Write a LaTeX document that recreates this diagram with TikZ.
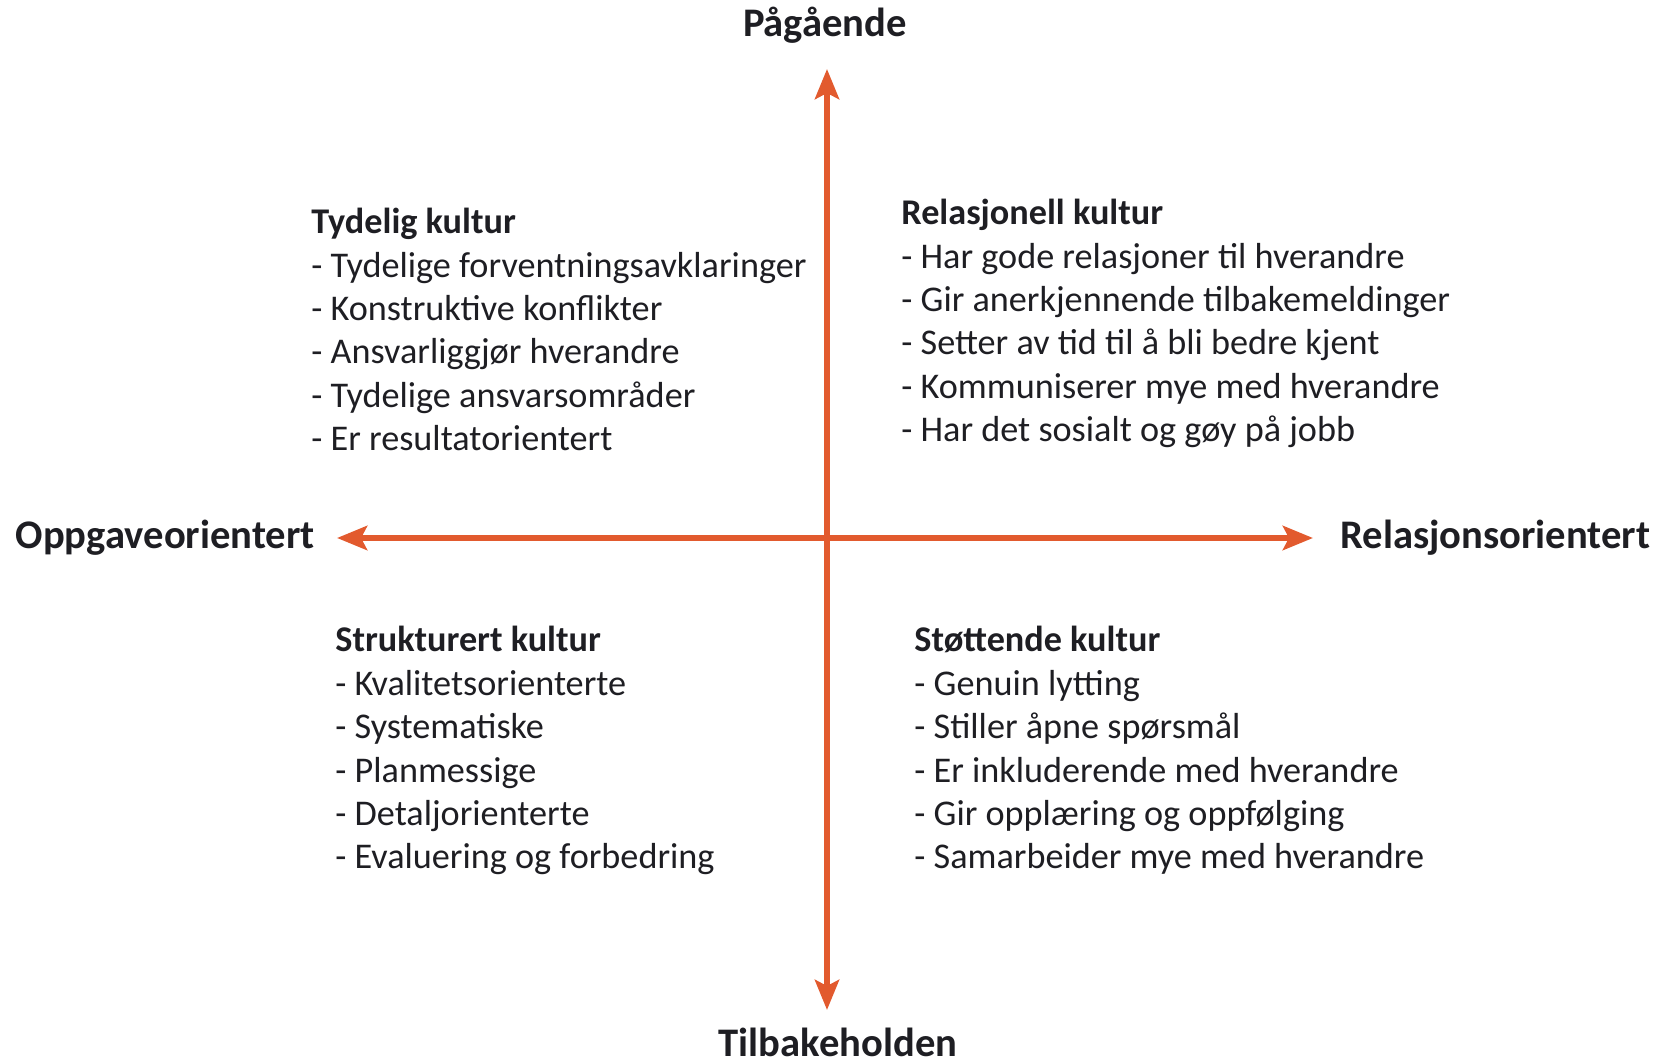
\documentclass[tikz,border=0pt]{standalone}
\usepackage{fontspec}
\setmainfont{Carlito}
\usepackage{tikz}
\usetikzlibrary{arrows.meta,positioning}
\definecolor{axisorange}{RGB}{226,90,46}
\definecolor{textdark}{RGB}{30,30,35}
\tikzstyle{axislabel}=[
  font={\fontsize{20.3}{24}\selectfont\bfseries},
  text=textdark,
  inner sep=0pt,
]
\tikzstyle{quadrant}=[
  font={\fontsize{18.1}{21.7}\selectfont},
  text=textdark,
  align=left,
  inner sep=0pt,
  anchor=north west,
]
\tikzstyle{axis}=[
  color=axisorange,
  line width=3pt,
  -{Stealth[length=15pt,width=12pt,inset=3pt]},
]
\tikzset{
  x=0.5pt,
  y=-0.5pt,
}
\begin{document}
\begin{tikzpicture}
  \useasboundingbox (0,0) rectangle (1659,1063);
  %%
  \coordinate (O) at (827,538);
  \coordinate (N) at (827,69);
  \coordinate (S) at (827,1010);
  \coordinate (W) at (337,538);
  \coordinate (E) at (1313,538);
  %%
  \node (pagaende) [axislabel] at (825,25) {Pågående};
  \node (tilbake) [axislabel] at (838,1042) {Tilbakeholden};
  \node (oppgave) [axislabel, anchor=east] at (315,538) {Oppgaveorientert};
  \node (relasjon) [axislabel, anchor=west] at (1340,538) {Relasjonsorientert};
  %%
  \draw [axis] (O) -- (N);
  \draw [axis] (O) -- (S);
  \draw [axis] (O) -- (W);
  \draw [axis] (O) -- (E);
  %%
  \node (tydelig) [quadrant] at (311,208) {\textbf{Tydelig kultur}\\
    - Tydelige forventningsavklaringer\\
    - Konstruktive konflikter\\
    - Ansvarliggjør hverandre\\
    - Tydelige ansvarsområder\\
    - Er resultatorientert};
  \node (relasjonell) [quadrant] at (901,199) {\textbf{Relasjonell kultur}\\
    - Har gode relasjoner til hverandre\\
    - Gir anerkjennende tilbakemeldinger\\
    - Setter av tid til å bli bedre kjent\\
    - Kommuniserer mye med hverandre\\
    - Har det sosialt og gøy på jobb};
  \node (strukturert) [quadrant] at (335,626) {\textbf{Strukturert kultur}\\
    - Kvalitetsorienterte\\
    - Systematiske\\
    - Planmessige\\
    - Detaljorienterte\\
    - Evaluering og forbedring};
  \node (stottende) [quadrant] at (914,626) {\textbf{Støttende kultur}\\
    - Genuin lytting\\
    - Stiller åpne spørsmål\\
    - Er inkluderende med hverandre\\
    - Gir opplæring og oppfølging\\
    - Samarbeider mye med hverandre};
\end{tikzpicture}
\end{document}
